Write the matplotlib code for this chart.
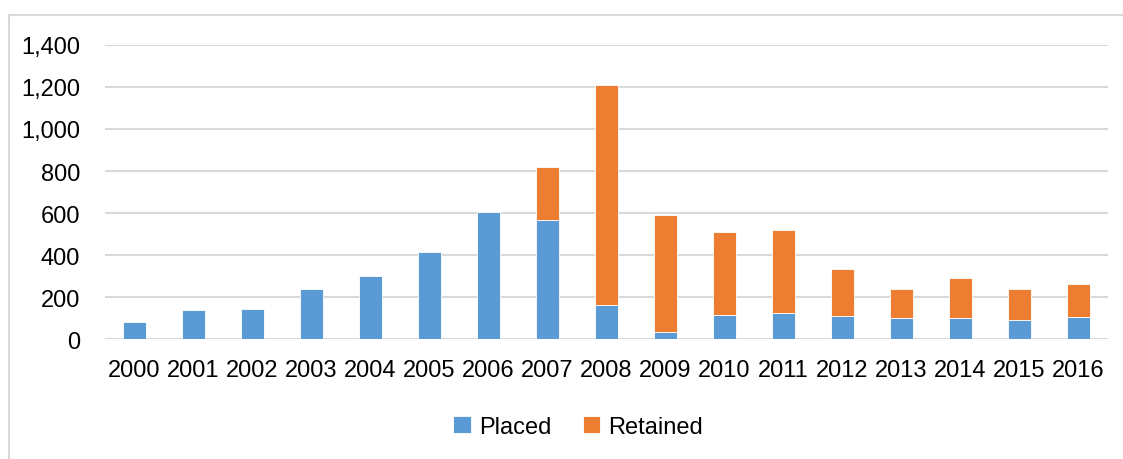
import matplotlib
matplotlib.use("Agg")
import matplotlib.pyplot as plt
from matplotlib.lines import Line2D
from matplotlib.ticker import FuncFormatter, MultipleLocator
import numpy as np

years = ["2000", "2001", "2002", "2003", "2004", "2005", "2006", "2007", "2008",
         "2009", "2010", "2011", "2012", "2013", "2014", "2015", "2016"]
placed = [84, 138, 147, 240, 301, 417, 604, 565, 165, 36, 117, 124, 113, 101, 103, 92, 108]
retained = [0, 0, 0, 0, 0, 0, 0, 255, 1042, 554, 392, 396, 220, 140, 187, 149, 155]

BLUE = "#5B9BD5"
ORANGE = "#ED7D31"
GRID = "#D9D9D9"

plt.rcParams["font.family"] = ["Liberation Sans", "DejaVu Sans"]

fig = plt.figure(figsize=(11.23, 4.6), dpi=100)
ax = fig.add_axes([0.0935, 0.2598, 0.893, 0.641])

x = np.arange(len(years))
w = 0.40
ax.bar(x, placed, width=w, color=BLUE, edgecolor="white", linewidth=0.6,
       label="Placed", zorder=3)
ret = np.array(retained, dtype=float)
mask = ret > 0
ax.bar(x[mask], ret[mask], width=w, bottom=np.array(placed)[mask], color=ORANGE,
       edgecolor="white", linewidth=0.6, label="Retained", zorder=3)

ax.set_xlim(-0.5, len(years) - 0.5)
ax.set_ylim(0, 1400)
ax.yaxis.set_major_locator(MultipleLocator(200))
ax.yaxis.set_major_formatter(FuncFormatter(lambda v, p: f"{int(v):,}"))
ax.set_xticks(x)
ax.set_xticklabels(years)
ax.grid(axis="y", color=GRID, linewidth=1.5, zorder=0)
ax.set_axisbelow(True)
for s in ax.spines.values():
    s.set_visible(False)
ax.tick_params(axis="both", length=0, labelsize=17, colors="black")
ax.tick_params(axis="x", pad=14)
ax.tick_params(axis="y", pad=18)

# chart frame
fig.add_artist(Line2D([0.008, 0.008], [0.0, 0.965], color=GRID, linewidth=1.5,
                      transform=fig.transFigure))
fig.add_artist(Line2D([0.008, 1.0], [0.965, 0.965], color=GRID, linewidth=1.5,
                      transform=fig.transFigure))

fig.legend(loc="center", bbox_to_anchor=(0.515, 0.070), ncol=2, frameon=False,
           fontsize=17, handlelength=0.75, handleheight=0.75, handletextpad=0.35,
           columnspacing=1.3)

fig.savefig("out.png", dpi=100)
